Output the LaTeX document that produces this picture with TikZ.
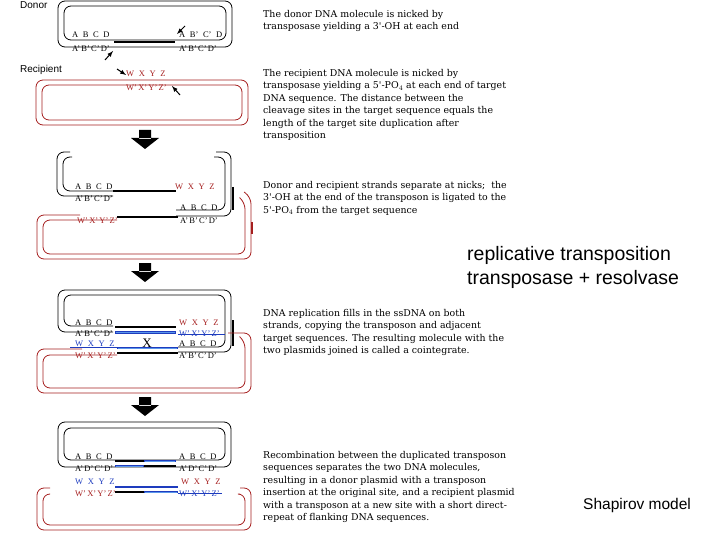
\documentclass[tikz,border=0pt]{standalone}
\usepackage{fontspec}
\setmainfont{Liberation Serif}
\setsansfont{Liberation Sans}
\newfontfamily\descfont{DejaVu Serif}
\definecolor{rd}{RGB}{165,30,30}
\definecolor{bl}{RGB}{30,60,190}
\definecolor{lb}{RGB}{90,150,235}
\newcommand\sq[4]{#1\hspace{4.6pt}#2\hspace{4.6pt}#3\hspace{4.6pt}#4}
\newcommand\sqp[4]{#1'\hspace{1.2pt}#2'\hspace{1.2pt}#3'\hspace{1.2pt}#4'}
\begin{document}
\begin{tikzpicture}[x=1pt,y=-1pt,
  desc/.style={anchor=north west,align=left,inner sep=0pt,font=\descfont\fontsize{9.4}{12.5}\selectfont},
  lab/.style={anchor=west,inner sep=0pt,font=\fontsize{8.5}{9}\selectfont},
  strand/.style={line width=0.8pt,rounded corners=7},
  bar/.style={line width=2.6pt},
  tick/.style={-latex,line width=1pt},
  big/.style={font=\sffamily\fontsize{19.5}{22}\selectfont,anchor=west,inner sep=0pt}]
\useasboundingbox (0,0) rectangle (720,540);
% down arrows
\foreach \n/\y in {a1/130,a2/263,a3/397}{
  \fill (139,\y) rectangle (151,\y+9) (131,\y+8) -- (159,\y+8) -- (145,\y+19) -- cycle;
  \coordinate (\n) at (145,\y);}
% ---------- panel 1
\node[font=\sffamily\fontsize{10}{11}\selectfont,anchor=west,inner sep=0pt] (donor) at (20,5) {Donor};
\draw[strand] (58,47) rectangle (232,1);
\draw[strand] (64,40) rectangle (226,6);
\draw[bar] (114,42) -- (175,42);
\node[lab] (d1) at (72,35) {\sq ABCD};
\node[lab] (d2) at (72,49) {\sqp ABCD};
\node[lab] (d3) at (179,35) {A\hspace{4.6pt}B'\hspace{4.6pt}C'\hspace{4.6pt}D};
\node[lab] (d4) at (179,49) {\sqp ABCD};
\coordinate (n1s) at (185,26); \coordinate (n1e) at (177,34);
\draw[tick] (n1s) -- (n1e);
\coordinate (n2s) at (105,60); \coordinate (n2e) at (113,51);
\draw[tick] (n2s) -- (n2e);
\node[font=\sffamily\fontsize{10}{11}\selectfont,anchor=west,inner sep=0pt] (recip) at (20,70) {Recipient};
\draw[strand,rd] (36,125) rectangle (248,80);
\draw[strand,rd] (42,120) rectangle (242,85);
\node[lab,rd] (r1) at (126,74) {\sq WXYZ};
\node[lab,rd] (r2) at (126,88) {\sqp WXYZ};
\coordinate (n3s) at (117,69); \coordinate (n3e) at (126,75);
\draw[tick] (n3s) -- (n3e);
\coordinate (n4s) at (180,95); \coordinate (n4e) at (172,86);
\draw[tick] (n4s) -- (n4e);
\node[desc] (t1) at (263,10) {The donor DNA molecule is nicked by\\transposase yielding a 3'-OH at each end};
\node[desc] (t2) at (263,69) {The recipient DNA molecule is nicked by\\transposase yielding a 5'-PO$_4$ at each end of target\\DNA sequence. The distance between the\\cleavage sites in the target sequence equals the\\length of the target site duplication after\\transposition};
% ---------- panel 3
\draw[strand] (113,196) -- (57,196) -- (57,152) -- (70,152);
\draw[strand] (113,191) -- (63,191) -- (63,157) -- (72,157);
\draw[bar] (113,191) -- (176,191);
\draw[strand] (216,152) -- (231,152) -- (231,216) -- (176,216);
\draw[strand] (214,157) -- (225,157) -- (225,210) -- (176,210);
\draw[line width=2pt] (233,187) -- (233,210);
\draw[bar] (117,217) -- (178,217);
\node[lab] (p3a) at (75,187) {\sq ABCD};
\node[lab] (p3b) at (75,199) {\sqp ABCD};
\node[lab,rd] (p3c) at (175,187) {\sq WXYZ};
\node[lab] (p3d) at (180,208) {\sq ABCD};
\node[lab] (p3e) at (180,221) {\sqp ABCD};
\node[lab,rd] (p3f) at (77,221) {\sqp WXYZ};
\draw[strand,rd] (80,215) -- (37,215) -- (37,259) -- (251,259) -- (251,197) -- (244,192);
\draw[strand,rd] (117,220) -- (43,220) -- (43,254) -- (245,254) -- (245,202) -- (240,198);
\draw[rd,line width=1.6pt] (252,222) -- (252,234);
\node[desc] (t3) at (263,181) {Donor and recipient strands separate at nicks;\ \ the\\3'-OH at the end of the transposon is ligated to the\\5'-PO$_4$ from the target sequence};
\node[big] (rt1) at (467,255) {replicative transposition};
\node[big] (rt2) at (467,279) {transposase + resolvase};
% ---------- panel 4
\draw[strand] (113,332) -- (58,332) -- (58,290) -- (231,290) -- (231,352) -- (178,352);
\draw[strand] (113,326) -- (64,326) -- (64,295) -- (225,295) -- (225,347) -- (178,347);
\draw[bar] (115,327) -- (176,327);
\draw[bl,bar] (115,332.5) -- (176,332.5); \draw[lb,line width=0.9pt] (116,332.5) -- (175,332.5);
\draw[line width=2pt] (233,320) -- (233,346);
\draw[bl,bar] (117,348) -- (178,348); \draw[lb,line width=0.9pt] (118,348) -- (177,348);
\draw[bar] (117,353) -- (178,353);
\draw[bl,line width=0.8pt] (70,347) -- (117,347);
\draw[bl,line width=0.8pt] (178,334) -- (225,334);
\draw[strand,rd] (82,349) -- (37,349) -- (37,393) -- (251,393) -- (251,333) -- (228,333);
\draw[strand,rd] (117,355) -- (43,355) -- (43,388) -- (245,388) -- (245,341) -- (240,337);
\node[lab] (p4a) at (75,323) {\sq ABCD};
\node[lab] (p4b) at (75,334) {\sqp ABCD};
\node[lab,bl] (p4c) at (75,344) {\sq WXYZ};
\node[lab,rd] (p4d) at (75,356) {\sqp WXYZ};
\node[lab,rd] (p4e) at (179,323) {\sq WXYZ};
\node[lab,bl] (p4f) at (179,334) {\sqp WXYZ};
\node[lab] (p4g) at (179,344) {\sq ABCD};
\node[lab] (p4h) at (179,356) {\sqp ABCD};
\node[font=\fontsize{13}{14}\selectfont,inner sep=0pt] (xx) at (147,343) {X};
\node[desc] (t4) at (263,309) {DNA replication fills in the ssDNA on both\\strands, copying the transposon and adjacent\\target sequences. The resulting molecule with the\\two plasmids joined is called a cointegrate.};
% ---------- panel 5
\draw[strand] (58,467) rectangle (231,422);
\draw[strand] (64,460) rectangle (225,428);
\draw[bar] (115,461) -- (144,461);
\draw[bl,bar] (144,461) -- (176,461); \draw[lb,line width=0.9pt] (145,461) -- (175,461);
\draw[bl,bar] (115,466) -- (144,466); \draw[lb,line width=0.9pt] (116,466) -- (143,466);
\draw[bar] (144,466) -- (176,466);
\draw[bl,bar] (115,487) -- (178,487);
\draw[bar] (115,492) -- (144,492);
\draw[bl,bar] (144,492) -- (178,492); \draw[lb,line width=0.9pt] (145,492) -- (177,492);
\draw[bl,line width=0.8pt] (178,493) -- (222,493);
\draw[strand,rd] (50,488) -- (37,488) -- (37,530) -- (251,530) -- (251,488) -- (240,488);
\draw[strand,rd] (49,494) -- (43,494) -- (43,525) -- (245,525) -- (245,494) -- (240,494);
\node[lab] (p5a) at (75,457) {\sq ABCD};
\node[lab] (p5b) at (75,469) {\sqp ADCD};
\node[lab] (p5c) at (179,457) {\sq ABCD};
\node[lab] (p5d) at (179,469) {\sqp ADCD};
\node[lab,bl] (p5e) at (75,482) {\sq WXYZ};
\node[lab,rd] (p5f) at (75,494) {\sqp WXYZ};
\node[lab,rd] (p5g) at (181,482) {\sq WXYZ};
\node[lab,bl] (p5h) at (179,494) {\sqp WXYZ};
\node[desc] (t5) at (263,451) {Recombination between the duplicated transposon\\sequences separates the two DNA molecules,\\resulting in a donor plasmid with a transposon\\insertion at the original site, and a recipient plasmid\\with a transposon at a new site with a short direct-\\repeat of flanking DNA sequences.};
\node[font=\sffamily\fontsize{15.5}{17}\selectfont,anchor=west,inner sep=0pt] (sm) at (583,505) {Shapirov model};
\end{tikzpicture}
\end{document}
